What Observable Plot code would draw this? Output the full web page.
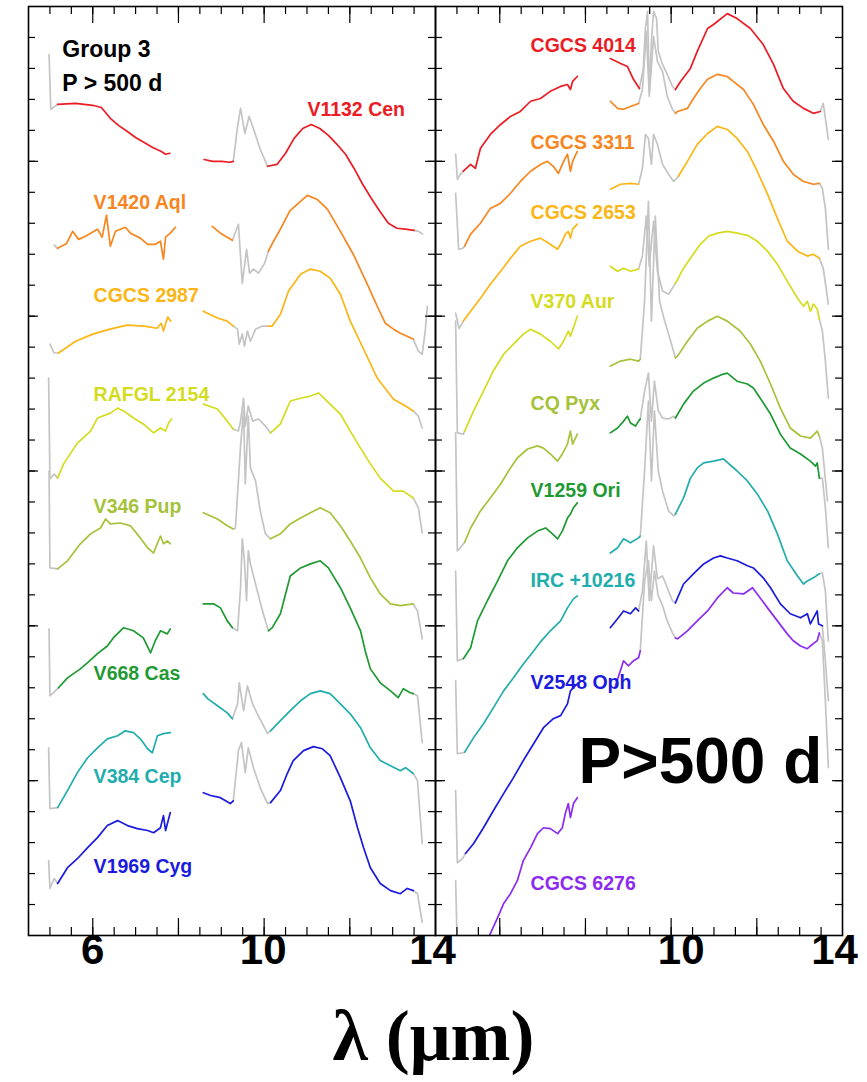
<!DOCTYPE html>
<html>
<head>
<meta charset="utf-8">
<script src="https://cdn.jsdelivr.net/npm/d3@7"></script>
<script src="https://cdn.jsdelivr.net/npm/@observablehq/plot@0.6"></script>
<style>
  html, body { margin: 0; padding: 0; background: #fff; }
  #wrap { position: relative; width: 867px; height: 1082px; overflow: hidden; background: #fff; }
  #left, #right { position: absolute; top: 0; }
  #left { left: 0; }
  #right { left: 433px; }
  #xlabel { position: absolute; left: 0; width: 867px; top: 1000px; text-align: center;
    font-family: "Liberation Serif", "Times New Roman", Times, serif; font-weight: bold;
    font-size: 72px; line-height: 72px; color: #000; }
</style>
</head>
<body>
<div id="wrap">
  <div id="left"></div>
  <div id="right"></div>
  <div id="xlabel">λ (μm)</div>
</div>
<script>
// ---------------- data: [wavelength (µm), offset flux] ; [short-low segment, long segment]
const V1132Cen = [
  [[4.98,28.45],[5.02,26.68],[5.18,26.84],[5.6,26.87],[6.0,26.81],[6.2,26.74],[6.41,26.39],[6.6,26.16],[6.8,25.97],[7.0,25.77],[7.2,25.61],[7.4,25.45],[7.6,25.32],[7.7,25.23],[7.8,25.26]],
  [[8.6,25.06],[8.8,25.0],[9.0,25.0],[9.2,24.97],[9.28,25.0],[9.38,26.13],[9.45,26.71],[9.55,25.9],[9.65,26.45],[9.75,26.06],[9.9,25.42],[10.08,24.84],[10.3,24.9],[10.5,25.26],[10.7,25.74],[10.9,26.06],[11.1,26.19],[11.3,26.06],[11.5,25.84],[11.7,25.55],[11.9,25.23],[12.1,24.77],[12.3,24.26],[12.5,23.81],[12.7,23.39],[12.9,23.0],[13.1,22.84],[13.3,22.81],[13.5,22.77],[13.6,22.74],[13.7,22.65]]
];
const V1420Aql = [
  [[5.1,22.29],[5.18,22.19],[5.39,22.35],[5.53,22.74],[5.67,22.48],[5.83,22.58],[6.11,22.81],[6.22,22.55],[6.32,23.26],[6.41,22.26],[6.53,22.74],[6.76,22.87],[6.88,22.68],[7.11,22.52],[7.28,22.32],[7.46,22.32],[7.58,22.42],[7.65,21.84],[7.7,22.55],[7.81,22.68],[7.93,22.87]],
  [[8.79,22.9],[8.98,22.68],[9.26,22.45],[9.4,22.97],[9.49,21.06],[9.59,22.16],[9.66,21.39],[9.75,21.52],[9.87,21.39],[10.01,21.71],[10.1,22.1],[10.22,22.42],[10.38,22.81],[10.6,23.4],[10.85,23.71],[11.01,23.9],[11.24,23.77],[11.48,23.45],[11.78,22.74],[12.08,22.0],[12.41,21.03],[12.64,20.32],[12.83,19.77],[13.02,19.58],[13.18,19.45],[13.48,19.26],[13.6,18.87],[13.69,18.77],[13.76,19.52],[13.81,20.32]]
];
const CGCS2987 = [
  [[5.0,19.10],[5.1,18.81],[5.2,18.81],[5.6,19.19],[6.0,19.42],[6.4,19.58],[6.8,19.71],[7.2,19.68],[7.5,19.61],[7.6,19.77],[7.65,19.52],[7.75,19.97],[7.82,19.84]],
  [[8.58,20.16],[8.91,19.94],[9.14,19.84],[9.28,19.68],[9.38,19.58],[9.42,19.10],[9.49,19.42],[9.54,19.03],[9.61,19.52],[9.68,19.19],[9.8,19.58],[9.96,19.68],[10.1,19.68],[10.19,19.68],[10.38,20.06],[10.57,20.81],[10.85,21.35],[11.08,21.52],[11.31,21.45],[11.54,21.23],[11.78,20.71],[12.01,19.84],[12.32,18.94],[12.64,18.0],[13.02,17.32],[13.3,17.1],[13.48,16.94],[13.6,16.77],[13.69,16.39]]
];
const RAFGL2154 = [
  [[4.97,18.0],[5.0,14.74],[5.1,14.9],[5.18,14.77],[5.32,15.23],[5.64,15.9],[5.95,16.29],[6.11,16.71],[6.41,16.87],[6.58,17.03],[6.72,16.94],[6.95,16.71],[7.18,16.52],[7.42,16.23],[7.58,16.39],[7.7,16.29],[7.77,16.55],[7.84,16.68]],
  [[8.58,17.16],[8.91,17.0],[9.14,16.61],[9.28,16.35],[9.4,16.29],[9.45,16.61],[9.52,17.35],[9.56,16.45],[9.63,17.10],[9.73,16.61],[9.87,16.68],[10.03,16.45],[10.15,16.23],[10.38,16.52],[10.61,17.26],[10.85,17.35],[11.08,17.42],[11.27,17.52],[11.54,17.16],[11.78,16.84],[12.01,16.29],[12.25,15.74],[12.48,15.23],[12.71,14.77],[13.02,14.35],[13.25,14.35],[13.48,14.13],[13.6,13.81],[13.69,13.0]]
];
const V346Pup = [
  [[4.98,15.0],[5.0,11.87],[5.18,11.84],[5.41,12.10],[5.71,12.65],[5.95,12.97],[6.18,13.16],[6.3,13.45],[6.41,13.29],[6.65,13.32],[6.88,13.23],[7.11,12.84],[7.28,12.52],[7.42,12.35],[7.53,12.74],[7.58,12.90],[7.65,12.65],[7.74,12.74],[7.81,12.65]],
  [[8.58,13.65],[8.91,13.45],[9.14,13.23],[9.28,13.13],[9.33,13.16],[9.45,15.81],[9.52,16.94],[9.56,14.58],[9.63,16.77],[9.68,15.10],[9.8,14.68],[9.91,13.71],[10.03,12.97],[10.15,12.81],[10.38,12.97],[10.61,13.29],[10.85,13.48],[11.08,13.65],[11.31,13.81],[11.54,13.65],[11.78,13.23],[12.01,12.74],[12.25,12.19],[12.48,11.55],[12.71,11.03],[12.95,10.71],[13.18,10.65],[13.48,10.71],[13.58,10.48],[13.69,9.58]]
];
const V668Cas = [
  [[4.98,9.9],[5.0,7.74],[5.2,8.0],[5.41,8.32],[5.71,8.61],[5.88,8.81],[6.11,9.10],[6.34,9.35],[6.48,9.61],[6.72,9.94],[6.95,9.84],[7.18,9.61],[7.35,9.13],[7.46,9.52],[7.58,9.84],[7.74,9.74],[7.81,9.90]],
  [[8.58,10.71],[8.82,10.71],[8.98,10.58],[9.14,10.16],[9.26,9.94],[9.38,9.84],[9.45,11.23],[9.49,12.81],[9.54,12.10],[9.59,10.81],[9.63,12.42],[9.68,12.0],[9.84,11.13],[9.98,10.39],[10.1,9.84],[10.19,9.94],[10.38,10.39],[10.61,11.61],[10.85,11.87],[11.08,12.0],[11.31,12.10],[11.5,11.87],[11.78,11.23],[12.01,10.58],[12.25,9.84],[12.36,9.19],[12.48,8.61],[12.71,8.16],[12.95,7.90],[13.13,7.68],[13.25,7.97],[13.41,7.84],[13.48,7.81],[13.58,7.74],[13.69,6.23]]
];
const V384Cep = [
  [[4.97,6.06],[5.0,4.10],[5.18,4.13],[5.41,4.68],[5.64,5.26],[5.88,5.74],[6.11,6.06],[6.34,6.35],[6.58,6.45],[6.76,6.61],[6.95,6.55],[7.11,6.35],[7.28,6.03],[7.39,5.90],[7.51,6.45],[7.65,6.52],[7.81,6.55]],
  [[8.58,7.81],[8.68,7.65],[8.91,7.42],[9.14,7.19],[9.26,7.0],[9.38,7.48],[9.42,8.16],[9.52,7.26],[9.61,8.06],[9.73,7.48],[9.84,7.16],[9.96,6.84],[10.08,6.52],[10.15,6.61],[10.38,6.94],[10.61,7.26],[10.85,7.58],[11.08,7.81],[11.31,7.90],[11.54,7.81],[11.78,7.48],[12.01,7.16],[12.25,6.71],[12.48,6.06],[12.71,5.65],[12.95,5.48],[13.18,5.32],[13.3,5.42],[13.48,5.23],[13.58,5.0],[13.69,2.97]]
];
const V1969Cyg = [
  [[4.97,2.42],[5.0,1.52],[5.1,1.84],[5.18,1.68],[5.41,2.19],[5.64,2.48],[5.88,2.84],[6.11,3.16],[6.34,3.55],[6.58,3.71],[6.81,3.55],[7.04,3.45],[7.28,3.39],[7.42,3.32],[7.58,3.48],[7.65,3.87],[7.70,3.39],[7.81,3.97]],
  [[8.58,4.61],[8.75,4.52],[8.98,4.45],[9.21,4.26],[9.28,4.35],[9.4,5.97],[9.47,6.23],[9.56,5.26],[9.63,6.06],[9.75,5.42],[9.91,4.77],[10.08,4.26],[10.15,4.29],[10.38,4.68],[10.54,5.23],[10.68,5.65],[10.92,5.97],[11.15,6.10],[11.36,6.03],[11.54,5.81],[11.78,5.10],[12.01,4.35],[12.18,3.48],[12.32,2.84],[12.48,2.19],[12.71,1.68],[12.95,1.45],[13.18,1.35],[13.34,1.52],[13.48,1.45],[13.58,1.35],[13.69,0.42]]
];
const CGCS4014 = [
  [[4.97,25.23],[5.01,24.42],[5.08,24.58],[5.15,24.68],[5.32,24.90],[5.43,24.77],[5.55,25.42],[5.78,25.87],[6.02,26.19],[6.25,26.45],[6.48,26.61],[6.72,26.94],[6.95,27.03],[7.18,27.26],[7.42,27.42],[7.58,27.48],[7.65,27.32],[7.70,27.58],[7.81,27.74]],
  [[8.58,28.32],[8.82,28.16],[8.98,28.06],[9.12,27.65],[9.26,27.35],[9.35,28.0],[9.4,29.29],[9.45,29.84],[9.49,27.26],[9.54,28.87],[9.59,29.84],[9.66,29.61],[9.7,28.55],[9.8,28.13],[9.91,27.81],[10.03,27.42],[10.1,27.32],[10.22,27.58],[10.45,28.0],[10.61,28.55],[10.85,29.29],[10.99,29.42],[11.31,29.77],[11.54,29.61],[11.85,29.29],[12.15,28.77],[12.39,28.13],[12.62,27.35],[12.85,26.94],[13.09,26.71],[13.32,26.55],[13.48,26.61],[13.55,26.87],[13.6,26.39],[13.67,25.71]]
];
const CGCS3311 = [
  [[4.97,23.97],[5.04,22.16],[5.13,22.19],[5.18,22.26],[5.32,22.65],[5.55,23.0],[5.78,23.48],[6.02,23.65],[6.25,23.97],[6.48,24.35],[6.72,24.68],[6.95,24.90],[7.11,25.0],[7.25,24.84],[7.37,24.61],[7.49,25.0],[7.58,25.23],[7.65,24.68],[7.70,25.0],[7.81,25.32]],
  [[8.58,26.94],[8.75,26.71],[8.89,26.68],[9.05,26.77],[9.24,26.87],[9.33,27.32],[9.42,29.19],[9.49,27.10],[9.59,29.03],[9.68,28.23],[9.8,27.90],[9.91,27.10],[10.03,26.68],[10.1,26.55],[10.15,26.61],[10.38,26.71],[10.52,27.03],[10.68,27.35],[10.85,27.65],[11.08,27.81],[11.31,27.74],[11.45,27.58],[11.69,27.32],[11.92,26.84],[12.15,26.19],[12.39,25.65],[12.62,25.0],[12.85,24.58],[13.09,24.35],[13.32,24.26],[13.46,24.29],[13.53,24.13],[13.6,23.48],[13.67,22.16]]
];
const CGCS2653 = [
  [[4.97,20.1],[5.05,19.6],[5.15,19.84],[5.32,20.16],[5.55,20.58],[5.78,21.03],[6.02,21.45],[6.25,21.87],[6.48,22.26],[6.72,22.42],[6.95,22.52],[7.18,22.32],[7.35,22.16],[7.46,22.42],[7.53,22.65],[7.6,22.74],[7.65,22.52],[7.70,22.81],[7.81,22.97]],
  [[8.58,24.10],[8.82,24.26],[9.05,24.29],[9.24,24.26],[9.33,24.77],[9.40,25.87],[9.47,25.74],[9.54,24.90],[9.59,25.87],[9.68,25.55],[9.8,24.90],[9.94,24.58],[10.06,24.35],[10.17,24.52],[10.38,25.0],[10.61,25.55],[10.85,25.90],[11.08,26.13],[11.31,26.03],[11.54,25.74],[11.78,25.32],[12.01,24.68],[12.25,23.94],[12.48,23.16],[12.71,22.42],[12.95,22.10],[13.18,21.94],[13.32,22.0],[13.46,21.87],[13.55,21.55],[13.67,20.39]]
];
const V370Aur = [
  [[4.97,19.84],[5.01,16.23],[5.15,16.19],[5.18,16.29],[5.39,16.94],[5.62,17.58],[5.85,18.23],[6.09,18.77],[6.32,19.10],[6.55,19.42],[6.72,19.58],[6.95,19.42],[7.18,19.19],[7.37,18.94],[7.49,19.19],[7.60,19.52],[7.65,19.35],[7.81,20.0]],
  [[8.58,21.61],[8.75,21.45],[8.89,21.55],[9.05,21.45],[9.24,21.52],[9.33,21.94],[9.42,23.23],[9.49,21.61],[9.59,23.06],[9.68,21.45],[9.8,20.81],[9.94,20.71],[10.06,20.97],[10.1,21.06],[10.29,21.55],[10.45,21.87],[10.68,22.32],[10.87,22.58],[11.08,22.68],[11.31,22.74],[11.54,22.68],[11.78,22.61],[12.01,22.42],[12.25,22.10],[12.48,21.68],[12.71,21.13],[12.95,20.58],[13.09,20.32],[13.18,20.48],[13.25,20.16],[13.32,20.39],[13.41,20.23],[13.46,19.90],[13.53,19.52],[13.6,18.55],[13.67,17.35]]
];
const CQPyx = [
  [[4.97,16.23],[5.01,12.42],[5.08,12.52],[5.18,12.7],[5.32,13.16],[5.55,13.71],[5.78,14.13],[6.02,14.58],[6.25,15.10],[6.41,15.42],[6.65,15.71],[6.88,15.81],[7.02,15.74],[7.18,15.55],[7.35,15.32],[7.46,15.55],[7.58,15.87],[7.65,16.29],[7.70,15.87],[7.81,16.19]],
  [[8.58,18.39],[8.82,18.55],[9.05,18.61],[9.24,18.55],[9.28,18.61],[9.38,20.48],[9.47,23.71],[9.54,19.84],[9.63,23.23],[9.73,20.48],[9.85,19.84],[9.99,19.19],[10.1,18.65],[10.15,18.71],[10.38,19.19],[10.61,19.61],[10.85,19.84],[11.08,20.0],[11.31,19.84],[11.61,19.52],[11.85,19.10],[12.08,18.55],[12.32,17.81],[12.55,17.03],[12.78,16.39],[13.02,16.13],[13.25,16.06],[13.41,16.29],[13.46,16.13],[13.53,15.74],[13.65,14.03]]
];
const V1259Ori = [
  [[4.97,11.77],[5.01,8.87],[5.15,8.94],[5.32,9.29],[5.48,10.16],[5.71,10.81],[5.95,11.45],[6.18,12.10],[6.41,12.52],[6.65,12.84],[6.88,13.06],[7.07,13.16],[7.23,12.97],[7.35,12.81],[7.46,13.06],[7.58,13.48],[7.65,13.61],[7.72,13.81],[7.81,13.97]],
  [[8.58,16.23],[8.75,16.39],[8.89,16.61],[8.98,16.77],[9.05,16.55],[9.17,16.45],[9.24,16.61],[9.28,16.68],[9.38,17.58],[9.47,18.16],[9.54,16.61],[9.61,17.90],[9.7,16.94],[9.8,16.71],[9.94,16.68],[10.06,16.77],[10.1,16.71],[10.29,17.16],[10.52,17.58],[10.76,17.84],[10.99,18.0],[11.22,18.13],[11.31,18.16],[11.54,17.90],[11.78,17.81],[11.92,17.68],[12.08,17.35],[12.32,16.84],[12.55,16.19],[12.78,15.74],[13.02,15.55],[13.25,15.32],[13.37,15.16],[13.41,15.26],[13.46,14.77],[13.53,14.77],[13.6,13.81],[13.67,12.52]]
];
const IRC10216 = [
  [[4.97,8.23],[5.01,5.87],[5.13,5.90],[5.18,5.92],[5.39,6.39],[5.62,6.84],[5.85,7.35],[6.09,7.90],[6.32,8.32],[6.55,8.77],[6.79,9.19],[6.95,9.48],[7.18,9.84],[7.42,10.16],[7.58,10.58],[7.72,10.87],[7.81,10.97]],
  [[8.58,12.35],[8.75,12.52],[8.89,12.81],[9.05,12.68],[9.24,12.84],[9.28,12.90],[9.38,15.0],[9.47,17.26],[9.54,14.68],[9.61,16.94],[9.7,15.0],[9.8,14.35],[9.94,13.71],[10.06,13.55],[10.1,13.61],[10.29,14.13],[10.45,14.77],[10.61,15.10],[10.76,15.26],[10.99,15.32],[11.22,15.39],[11.54,15.0],[11.78,14.68],[12.01,14.26],[12.25,13.71],[12.48,12.97],[12.71,12.10],[12.95,11.61],[13.09,11.35],[13.18,11.45],[13.32,11.55],[13.46,11.68],[13.53,11.71],[13.6,11.13],[13.67,9.52]]
];
const V2548Oph = [
  [[4.97,4.68],[5.01,2.35],[5.13,2.48],[5.2,2.65],[5.39,2.97],[5.62,3.48],[5.85,4.03],[6.09,4.58],[6.32,5.10],[6.55,5.65],[6.79,6.19],[7.02,6.71],[7.25,7.0],[7.42,7.10],[7.58,7.48],[7.65,7.90],[7.81,8.13]],
  [[8.58,9.94],[8.75,10.23],[8.89,10.48],[9.05,10.39],[9.17,10.58],[9.24,10.48],[9.33,11.13],[9.42,12.74],[9.49,10.81],[9.59,12.58],[9.68,11.52],[9.8,11.61],[9.91,11.23],[10.03,10.81],[10.1,10.74],[10.29,11.35],[10.52,11.68],[10.76,12.0],[10.99,12.19],[11.15,12.26],[11.31,12.19],[11.54,12.10],[11.78,11.94],[11.92,11.87],[12.15,11.55],[12.32,11.23],[12.55,10.71],[12.78,10.39],[13.02,10.26],[13.18,10.39],[13.25,10.06],[13.41,10.48],[13.44,10.06],[13.53,10.0],[13.6,8.87],[13.67,7.58]]
];
const CGCS6276 = [
  [[4.97,1.77],[5.01,-0.5],[5.15,-1.8],[5.78,0.06],[5.95,0.58],[6.09,1.03],[6.25,1.35],[6.41,1.77],[6.55,2.42],[6.72,2.84],[6.88,3.29],[7.02,3.48],[7.18,3.45],[7.35,3.29],[7.46,3.48],[7.53,3.94],[7.60,4.26],[7.65,3.81],[7.72,4.26],[7.81,4.45]],
  [[8.70,8.06],[8.89,8.87],[9.0,8.71],[9.12,8.87],[9.24,8.97],[9.28,9.19],[9.38,11.45],[9.47,12.10],[9.54,10.81],[9.61,11.77],[9.7,10.97],[9.8,10.65],[9.91,10.16],[10.03,9.77],[10.1,9.61],[10.15,9.58],[10.38,9.84],[10.61,10.16],[10.85,10.48],[11.08,10.90],[11.31,11.23],[11.45,11.06],[11.69,11.03],[11.90,11.23],[12.01,11.03],[12.25,10.58],[12.48,10.16],[12.71,9.74],[12.85,9.52],[13.02,9.35],[13.18,9.26],[13.25,9.35],[13.41,9.52],[13.46,9.77],[13.53,9.52],[13.6,7.58],[13.67,5.42]]
];

// ---------------- series names / colours / label anchors
const leftNames  = ["V1132 Cen","V1420 Aql","CGCS 2987","RAFGL 2154","V346 Pup","V668 Cas","V384 Cep","V1969 Cyg"];
const leftSpectra = [V1132Cen, V1420Aql, CGCS2987, RAFGL2154, V346Pup, V668Cas, V384Cep, V1969Cyg];
const leftLabelX = [11.01, 6.02, 6.02, 6.02, 6.02, 6.02, 6.02, 6.02];
const leftLabelY = [26.65, 23.65, 20.65, 17.45, 13.84, 8.45, 5.13, 2.23];

const rightNames = ["CGCS 4014","CGCS 3311","CGCS 2653","V370 Aur","CQ Pyx","V1259 Ori","IRC +10216","V2548 Oph","CGCS 6276"];
const rightSpectra = [CGCS4014, CGCS3311, CGCS2653, V370Aur, CQPyx, V1259Ori, IRC10216, V2548Oph, CGCS6276];
const rightLabelX = [6.72, 6.72, 6.72, 6.72, 6.72, 6.72, 6.72, 6.72, 6.72];
const rightLabelY = [28.74, 25.61, 23.35, 20.45, 17.16, 14.35, 11.45, 8.16, 1.68];

const palette = ["#ec1c24", "#f7861f", "#fbb615", "#d4dc1e", "#a5c23a", "#1f9a33", "#22adad", "#1b1bdd", "#8b2cf0"];
const GRAY = "#c4c4c4";

const xMinor = d3.range(5, 14, 0.5);
const xMajor = [6, 8, 10, 12];
const yMinor = d3.range(1, 30, 1);
const yMajor = [5, 10, 15, 20, 25];

// gray (masked) wavelength ranges
const grayRanges = [[0, 5.17], [9.27, 10.12], [13.49, 99]];

// ---------------- layout
const FW = 407, H = 1000, MT = 6, MB = 65, FH = H - MT - MB;
const FONT = '"Liberation Sans", Arial, Helvetica, sans-serif';
const NARROW = '"Liberation Sans Narrow", "Arial Narrow", "Liberation Sans", Arial, sans-serif';

function toRows(spec, color, id) {
  const out = [];
  let run = 0;
  spec.forEach((seg, si) => {
    let cur = null;
    for (let i = 0; i < seg.length - 1; i++) {
      const a = seg[i], b = seg[i + 1];
      const m = (a[0] + b[0]) / 2;
      const g = grayRanges.some(([lo, hi]) => m > lo && m < hi);
      const c = g ? GRAY : color;
      if (!cur || cur !== c) {
        run++; cur = c;
        out.push({x: a[0], y: a[1], z: id + "-" + si + "-" + run, c});
      }
      out.push({x: b[0], y: b[1], z: id + "-" + si + "-" + run, c});
    }
  });
  return out;
}

function panel({spectra, names, lx, ly, ml, mr, tickLabels, extra}) {
  const rows = [];
  spectra.forEach((s, i) => rows.push(...toRows(s, palette[i], i)));
  const grayRows = rows.filter(r => r.c === GRAY);
  const colRows = rows.filter(r => r.c !== GRAY);
  const idx = d3.range(names.length);
  const marks = [
    Plot.line(grayRows, {x: "x", y: "y", z: "z", stroke: "c", strokeWidth: 1.7, clip: true}),
    Plot.line(colRows, {x: "x", y: "y", z: "z", stroke: "c", strokeWidth: 1.7, clip: true}),
    // ticks (inward, on all four sides)
    Plot.ruleX(xMinor, {x: d => d, insetTop: FH - 8, stroke: "#000", strokeWidth: 1.2}),
    Plot.ruleX(xMinor, {x: d => d, insetBottom: FH - 8, stroke: "#000", strokeWidth: 1.2}),
    Plot.ruleX(xMajor, {x: d => d, insetTop: FH - 17, stroke: "#000", strokeWidth: 1.2}),
    Plot.ruleX(xMajor, {x: d => d, insetBottom: FH - 17, stroke: "#000", strokeWidth: 1.2}),
    Plot.ruleY(yMinor, {y: d => d, insetRight: FW - 7, stroke: "#000", strokeWidth: 1.2}),
    Plot.ruleY(yMinor, {y: d => d, insetLeft: FW - 7, stroke: "#000", strokeWidth: 1.2}),
    Plot.ruleY(yMajor, {y: d => d, insetRight: FW - 10, stroke: "#000", strokeWidth: 1.2}),
    Plot.ruleY(yMajor, {y: d => d, insetLeft: FW - 10, stroke: "#000", strokeWidth: 1.2}),
    Plot.frame({stroke: "#000", strokeWidth: 1.6}),
    Plot.text(idx, {x: i => lx[i], y: i => ly[i], text: i => names[i], fill: i => palette[i],
      textAnchor: "start", fontSize: 19.5, fontWeight: "bold"})
  ];
  tickLabels.forEach(([v, dx]) => marks.push(
    Plot.text([v], {x: d => d, frameAnchor: "bottom", dy: 28, dx, text: d => String(d),
      fontSize: 42, fontWeight: "bold", fontFamily: NARROW, fill: "#000"})));
  extra.forEach(e => marks.push(
    Plot.text([e.text], {x: () => e.x, y: () => e.y, text: d => d, fontSize: e.size,
      fontWeight: "bold", fill: "#000", textAnchor: "start"})));
  return Plot.plot({
    width: ml + FW + mr, height: H,
    marginLeft: ml, marginRight: mr, marginTop: MT, marginBottom: MB,
    x: {domain: [4.5, 14], axis: null},
    y: {domain: [0, 30], axis: null},
    color: {type: "identity"},
    style: {background: "transparent", fontFamily: FONT, overflow: "visible"},
    marks
  });
}

document.getElementById("left").append(panel({
  spectra: leftSpectra, names: leftNames, lx: leftLabelX, ly: leftLabelY,
  ml: 28, mr: 1,
  tickLabels: [[6, 0], [10, -1], [14, -3]],
  extra: [
    {text: "Group 3", x: 5.29, y: 28.62, size: 23},
    {text: "P > 500 d", x: 5.29, y: 27.5, size: 23}
  ]
}));
document.getElementById("right").append(panel({
  spectra: rightSpectra, names: rightNames, lx: rightLabelX, ly: rightLabelY,
  ml: 2, mr: 25,
  tickLabels: [[10, 10], [14, -8]],
  extra: [
    {text: "P>500 d", x: 7.84, y: 5.60, size: 64}
  ]
}));
</script>
</body>
</html>
